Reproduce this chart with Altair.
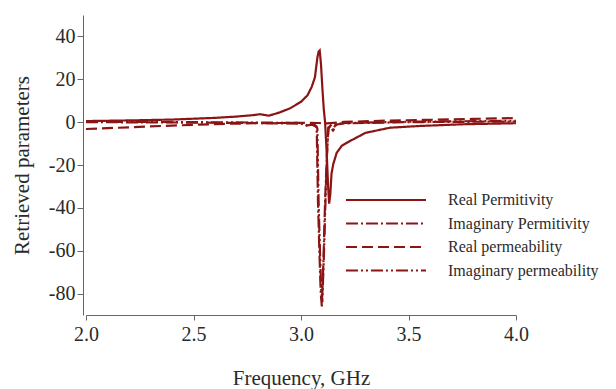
import altair as alt
import pandas as pd

# Real permittivity (solid)
f_eps_re = [2.0, 2.2, 2.4, 2.6, 2.7, 2.78, 2.81, 2.85, 2.9, 2.95, 3.0, 3.03, 3.05, 3.065,
            3.076, 3.082, 3.087, 3.093, 3.1, 3.106, 3.112, 3.12, 3.126, 3.131, 3.136, 3.142,
            3.15, 3.166, 3.19, 3.228, 3.3, 3.414, 3.55, 3.75, 4.0]
v_eps_re = [0.5, 0.8, 1.2, 2.0, 2.6, 3.3, 3.7, 3.0, 4.5, 6.5, 9.5, 12.5, 16.5, 21,
            30, 33, 33.5, 27, 15, 6, 0, -15, -30, -38, -34, -24,
            -19.6, -14.3, -11, -8.8, -5, -2.6, -1.8, -1.0, -0.5]

# Imaginary permittivity (dash-dot)
f_eps_im = [2.0, 2.5, 2.8, 3.0, 3.03, 3.05, 3.065, 3.073, 3.079, 3.086, 3.092, 3.097,
            3.104, 3.112, 3.12, 3.127, 3.135, 3.148, 3.16, 3.2, 3.5, 4.0]
v_eps_im = [0.0, -0.2, -0.4, -0.7, -1.5, -1.2, -1.8, -2.5, -37, -62, -80, -86,
            -66, -37, -16, -2.5, -2.0, -3.8, -1.2, -0.6, 0.0, 0.3]

# Real permeability (dashed)
f_mu_re = [2.0, 2.2, 2.4, 2.6, 2.8, 3.0, 3.08, 3.12, 3.2, 3.4, 3.6, 3.8, 4.0]
v_mu_re = [-3.2, -2.4, -1.6, -0.9, -0.5, -0.3, -0.4, -0.6, 0.1, 0.7, 1.1, 1.5, 1.9]

# Imaginary permeability (dash-dot-dot)
f_mu_im = [2.0, 2.5, 2.8, 3.0, 3.03, 3.06, 3.072, 3.076, 3.082, 3.089, 3.094, 3.099,
           3.106, 3.114, 3.121, 3.128, 3.138, 3.152, 3.165, 3.2, 3.5, 4.0]
v_mu_im = [0.2, 0.0, -0.2, -0.4, -1.8, -1.0, -2.0, -3.0, -38, -63, -78, -84,
           -64, -36, -15, -3.0, -1.5, -3.5, -1.0, -0.4, 0.2, 0.6]

series_names = ["Real Permitivity", "Imaginary Permitivity",
                "Real permeability", "Imaginary permeability"]
dashes = [[1, 0], [12, 3, 2, 3], [11, 5], [12, 3, 2, 3, 2, 3]]

x_ticks = [2.0, 2.5, 3.0, 3.5, 4.0]
y_ticks = [-80, -60, -40, -20, 0, 20, 40]

rows = []
for name, fs, vs in zip(series_names,
                        [f_eps_re, f_eps_im, f_mu_re, f_mu_im],
                        [v_eps_re, v_eps_im, v_mu_re, v_mu_im]):
    for i, (f, v) in enumerate(zip(fs, vs)):
        rows.append({"series": name, "freq": f, "value": v, "order": i})
df = pd.DataFrame(rows)

FONT = "Liberation Serif"
COLOR = "#8b1414"
TEXT = "#2a2a2a"

chart = alt.Chart(df).mark_line(color=COLOR, strokeWidth=2.2).encode(
    x=alt.X("freq:Q", scale=alt.Scale(domain=[2.0, 4.0], nice=False),
            axis=alt.Axis(title="Frequency, GHz", values=x_ticks, labelFlush=False,
                          format=".1f", grid=False, titleY=63, titleBaseline="middle",
                          labelPadding=4)),
    y=alt.Y("value:Q", scale=alt.Scale(domain=[-90, 50], nice=False),
            axis=alt.Axis(title="Retrieved parameters", values=y_ticks, offset=3,
                          labelExpr="'' + datum.value", grid=False, labelFlush=False,
                          titleX=-61, titleBaseline="middle", labelPadding=2, tickSize=6)),
    strokeDash=alt.StrokeDash("series:N",
                              scale=alt.Scale(domain=series_names, range=dashes),
                              sort=series_names,
                              legend=alt.Legend(title=None, orient="none", legendX=292, legendY=177,
                                                symbolType="M-6,0H6", symbolSize=178,
                                                symbolStrokeColor=COLOR, symbolStrokeWidth=2.2,
                                                labelFont=FONT, labelFontSize=16, labelColor=TEXT,
                                                labelLimit=400,
                                                labelOffset=54, rowPadding=7.5, padding=0)),
    order="order:Q",
    detail="series:N",
).properties(
    width=430, height=300,
    autosize=alt.AutoSizeParams(type="none"),
    padding={"left": 78, "top": 7, "right": 92, "bottom": 74},
).configure_view(stroke=None).configure_axis(
    labelFont=FONT, titleFont=FONT, labelFontSize=20, titleFontSize=21,
    labelColor=TEXT, titleColor=TEXT, titleFontWeight="normal",
    domainColor="#666", tickColor="#666", tickSize=5,
)

chart.save("out.html", embed_options={"renderer": "svg", "actions": False})
